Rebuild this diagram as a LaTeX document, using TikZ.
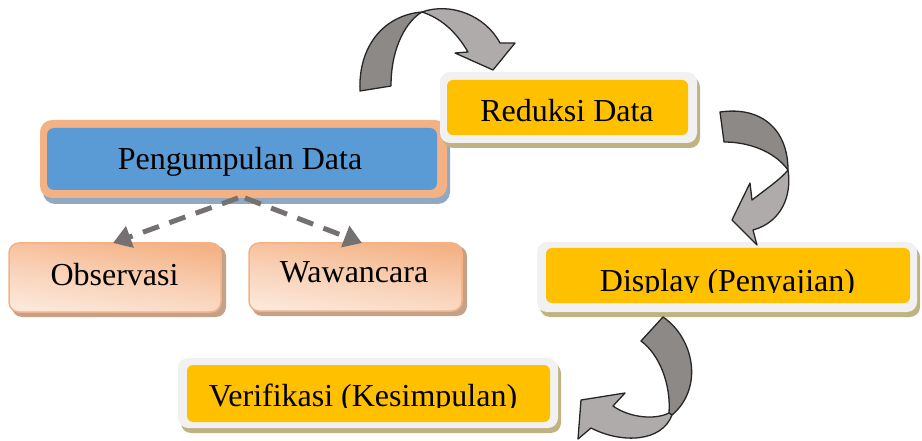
\documentclass[tikz,border=0pt]{standalone}
\usepackage{fontspec}
\setmainfont{Liberation Serif}
\usetikzlibrary{arrows.meta}
\definecolor{salmon}{HTML}{F4B183}
\definecolor{peach}{HTML}{FCE8DB}
\definecolor{pblue}{HTML}{5B9BD5}
\definecolor{bshadow}{HTML}{8FA9C2}
\definecolor{gold}{HTML}{FFC000}
\definecolor{rimgray}{HTML}{F1F1F1}
\definecolor{tanshadow}{HTML}{C0B283}
\definecolor{oshadow}{HTML}{C4A189}
\definecolor{dashgray}{HTML}{767171}
\definecolor{ribdark}{HTML}{8C8987}
\definecolor{riblight}{HTML}{AFABAB}
\definecolor{ribline}{HTML}{262626}
\begin{document}
\begin{tikzpicture}[x=1pt,y=-1pt,
  box/.style={rectangle, inner sep=0pt, outer sep=0pt},
  lbl/.style={inner sep=0pt, anchor=base, font=\fontsize{32pt}{38pt}\selectfont},
  dasharrow/.style={draw=dashgray, line width=5pt, dash pattern=on 17pt off 11pt, -{Triangle[length=18pt,width=22pt]}},
  ribbon/.style={draw=ribline, line width=1.3pt, line join=round},
  peachbox/.style={box, draw=salmon, line width=1.5pt, top color=salmon, bottom color=peach, middle color=salmon!45!peach, shading angle=-8, rounded corners=10pt},
]
\useasboundingbox (0,0) rectangle (922,441);

% Pengumpulan Data
\node[box, fill=bshadow, rounded corners=12pt, minimum width=407pt, minimum height=78pt] (pdshadow) at (246.5,165) {};
\node[box, fill=salmon, rounded corners=12pt, minimum width=407pt, minimum height=78pt] (pd) at (243.5,159) {};
\node[box, fill=pblue, rounded corners=7pt, minimum width=390pt, minimum height=62pt] (pdin) at (242,159) {};
\node[lbl] (pdt) at (240,170) {Pengumpulan Data};

% Observasi
\node[box, fill=oshadow, rounded corners=10pt, minimum width=214pt, minimum height=71pt] (obsshadow) at (119,281.5) {};
\node[peachbox, minimum width=212pt, minimum height=69pt] (obs) at (115,277.5) {};
\node[lbl] (obst) at (114.5,285) {Observasi};

% Wawancara
\node[box, fill=oshadow, rounded corners=10pt, minimum width=215pt, minimum height=70pt] (wawshadow) at (359.5,281) {};
\node[peachbox, minimum width=213pt, minimum height=68pt] (waw) at (355.5,277) {};
\node[lbl] (wawt) at (354,283) {Wawancara};

% dashed connectors
\draw[dasharrow] ([xshift=-5.5pt]pd.south) -- ([xshift=-2pt]obs.north);
\draw[dasharrow] ([xshift=1.5pt]pd.south) -- ([xshift=6.5pt]waw.north);

% Reduksi Data
\node[box, fill=tanshadow, rounded corners=10pt, minimum width=257pt, minimum height=71pt] (rdshadow) at (571.5,112.5) {};
\node[box, fill=rimgray, rounded corners=10pt, minimum width=257pt, minimum height=71pt] (rd) at (568.5,107.5) {};
\node[box, fill=gold, rounded corners=6pt, minimum width=241pt, minimum height=55pt] (rdin) at (567.5,107.5) {};
\node[lbl] (rdt) at (567,122) {Reduksi Data};

% Display (Penyajian)
\node[box, fill=tanshadow, rounded corners=10pt, minimum width=380pt, minimum height=70pt] (dpshadow) at (730,282) {};
\node[box, fill=rimgray, rounded corners=10pt, minimum width=380pt, minimum height=70pt] (dp) at (727,277) {};
\node[box, fill=gold, rounded corners=6pt, minimum width=364pt, minimum height=55pt] (dpin) at (728,275.5) {};
\begin{scope}
\clip (530,230) rectangle (920,292);
\node[lbl] (dpt) at (727.5,291.2) {Display (Penyajian)};
\end{scope}

% Verifikasi (Kesimpulan)
\node[box, fill=tanshadow, rounded corners=10pt, minimum width=380pt, minimum height=70pt] (vkshadow) at (371,398) {};
\node[box, fill=rimgray, rounded corners=10pt, minimum width=380pt, minimum height=70pt] (vk) at (368,393) {};
\node[box, fill=gold, rounded corners=6pt, minimum width=363pt, minimum height=57pt] (vkin) at (368.5,393.5) {};
\begin{scope}
\clip (170,350) rectangle (565,407);
\node[lbl] (vkt) at (363,406.2) {Verifikasi (Kesimpulan)};
\end{scope}

% curved ribbon arrows
\filldraw[ribbon, fill=ribdark] (360,91) .. controls (358,45) and (385,15) .. (422,12)
  .. controls (408,20) and (391,45) .. (391,86) -- cycle;
\filldraw[ribbon, fill=riblight] (422,12) .. controls (450,2) and (485,15) .. (500,43)
  -- (515,43) -- (493,70) -- (455,53) -- (468,52)
  .. controls (455,30) and (440,18) .. (422,12) -- cycle;

\filldraw[ribbon, fill=ribdark] (720,112) .. controls (762,106) and (788,130) .. (788,170)
  .. controls (775,152) and (750,142) .. (724,142) -- cycle;
\filldraw[ribbon, fill=riblight] (788,170) .. controls (792,195) and (782,222) .. (753,230)
  -- (757,245) -- (732,220) -- (750,183) -- (752,200)
  .. controls (765,190) and (782,178) .. (788,170) -- cycle;

\filldraw[ribbon, fill=ribdark] (663,317) .. controls (694,338) and (704,388) .. (672,415)
  -- (669,413) .. controls (671,385) and (660,355) .. (641,341) -- cycle;
\filldraw[ribbon, fill=riblight] (672,415) .. controls (662,442) and (622,444) .. (591,428)
  -- (578,439) -- (581,400) -- (625,393) -- (613,406)
  .. controls (630,418) and (655,420) .. (669,413) -- cycle;
\end{tikzpicture}
\end{document}
